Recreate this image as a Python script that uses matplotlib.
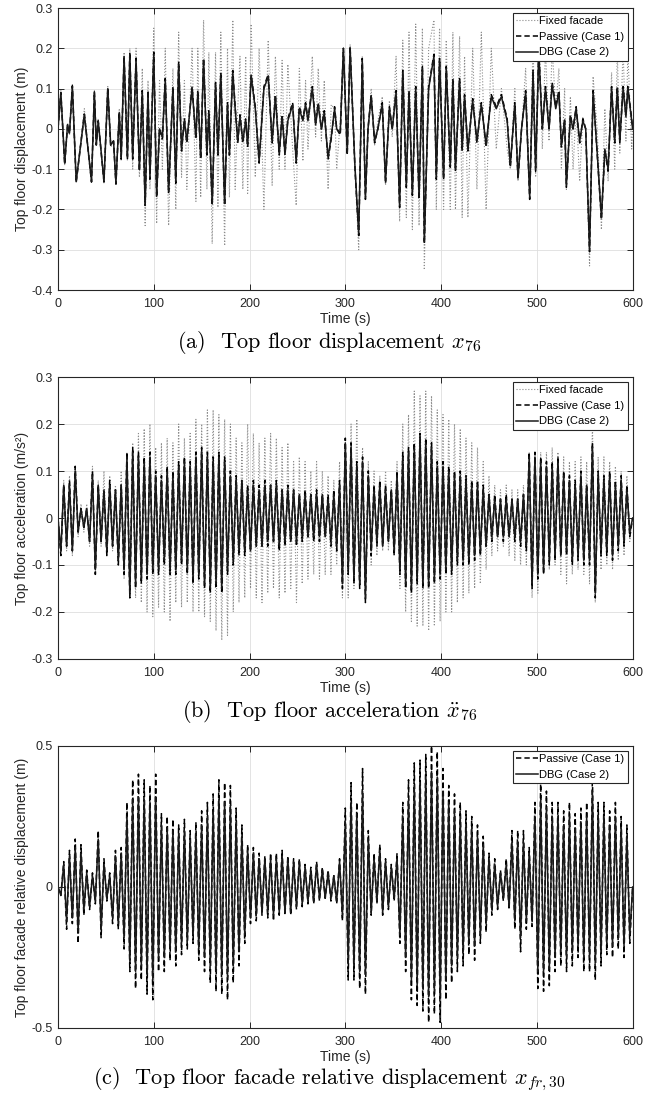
import numpy as np
import matplotlib
matplotlib.use("Agg")
import matplotlib.pyplot as plt

plt.rcParams["font.family"] = ["Liberation Sans", "DejaVu Sans"]
plt.rcParams["axes.unicode_minus"] = False
plt.rcParams["mathtext.fontset"] = "cm"

# ---------------------------------------------------------------------------
# (a) top floor displacement: extremes
# ---------------------------------------------------------------------------
t_a = [0, 3, 7, 10, 12, 15, 19, 27.5, 35, 38,
       40, 42, 44, 48, 52, 55, 58, 60.5, 64, 66,
       69, 72.5, 75, 78, 81.5, 85, 88, 91, 94, 96,
       100, 103, 106, 109, 112, 115.5, 120, 123, 126, 129,
       132, 134.5, 140, 144, 146, 149, 152, 155.5, 157.5, 161,
       164.5, 167, 170, 174, 177, 179, 182.5, 185, 187.7, 190,
       193, 196, 198, 201.7, 206, 210, 215, 219.5, 223.6, 227,
       231, 234, 237, 240, 245, 248.7, 252, 255.7, 258.5, 261,
       265.5, 269, 271.7, 275, 278, 282, 285.3, 288.8, 291, 294.7,
       298, 302, 305, 310, 314, 317.7, 321, 323.7, 327, 330.6,
       334, 338.6, 342, 346, 349, 353, 356.7, 360, 363.7, 366.5,
       370, 373.5, 377, 380.5, 382.5, 387, 392.5, 395, 398.4, 402.6,
       405.4, 409.6, 412.3, 415, 419.3, 422, 424.5, 428, 433, 437.4,
       442, 447, 452.4, 457.6, 463, 469, 472.3, 477, 480.3, 484,
       488.3, 492.5, 496, 498.7, 502, 505.7, 509, 512.7, 516, 519.7,
       523, 525.6, 529, 530.8, 535, 537.8, 541, 544.7, 548, 551,
       555, 558.7, 563, 567.4, 571, 574.4, 578, 581.3, 584, 586.6,
       590, 593, 595, 599, 600]

dbg_a = [0.0, 0.09, -0.085, 0.01, -0.01, 0.105, -0.13, 0.035, -0.13, 0.09,
         -0.04, 0.02, -0.03, -0.13, 0.10, -0.04, -0.03, -0.135, 0.04, -0.07,
         0.18, -0.07, 0.185, -0.07, 0.17, -0.10, 0.09, -0.19, 0.09, -0.12,
         0.185, -0.165, 0.0, -0.02, 0.12, -0.155, 0.10, -0.13, 0.16, -0.05,
         0.02, -0.03, 0.10, -0.02, 0.09, -0.07, 0.17, -0.06, 0.04, -0.185,
         0.11, -0.06, 0.135, -0.185, 0.06, -0.06, 0.14, 0.05, -0.03, 0.03,
         -0.03, 0.02, -0.04, 0.13, 0.05, -0.08, 0.10, 0.13, -0.03, 0.08,
         -0.06, 0.03, -0.06, 0.02, 0.06, -0.08, 0.05, 0.02, 0.06, 0.02,
         0.10, 0.01, 0.06, 0.0, 0.04, -0.07, -0.02, 0.05, 0.0, -0.01,
         0.20, -0.06, 0.20, -0.09, -0.26, 0.17, -0.17, 0.0, 0.08, -0.03,
         0.0, 0.06, -0.13, 0.05, 0.0, 0.09, -0.19, 0.14, -0.14, 0.09,
         -0.16, 0.10, -0.17, 0.15, -0.28, 0.10, 0.18, -0.12, 0.17, -0.12,
         0.15, -0.09, 0.12, -0.10, 0.12, -0.05, 0.08, -0.05, 0.07, -0.03,
         0.06, -0.04, 0.08, 0.05, 0.08, 0.02, -0.09, 0.06, -0.12, 0.0,
         0.09, -0.17, 0.14, -0.10, 0.19, 0.0, 0.10, 0.0, 0.11, 0.05,
         0.09, -0.04, 0.02, -0.14, 0.03, 0.0, 0.05, -0.03, 0.02, 0.0,
         -0.30, 0.09, -0.06, -0.22, -0.05, -0.10, 0.10, -0.03, 0.10, -0.03,
         0.10, 0.03, 0.10, 0.02, 0.0]

passive_a = [0.0, 0.09, -0.088, 0.01, -0.012, 0.107, -0.133, 0.037, -0.132, 0.092,
             -0.04, 0.02, -0.03, -0.132, 0.102, -0.04, -0.03, -0.137, 0.042, -0.075,
             0.18, -0.075, 0.19, -0.075, 0.175, -0.105, 0.095, -0.19, 0.095, -0.125,
             0.19, -0.17, 0.0, -0.025, 0.125, -0.16, 0.105, -0.135, 0.165, -0.055,
             0.025, -0.035, 0.105, -0.025, 0.095, -0.075, 0.175, -0.065, 0.045, -0.19,
             0.115, -0.065, 0.14, -0.19, 0.065, -0.065, 0.145, 0.055, -0.035, 0.035,
             -0.035, 0.025, -0.045, 0.135, 0.055, -0.085, 0.105, 0.135, -0.035, 0.085,
             -0.065, 0.035, -0.065, 0.025, 0.065, -0.085, 0.055, 0.025, 0.065, 0.025,
             0.105, 0.015, 0.065, 0.0, 0.045, -0.075, -0.025, 0.055, 0.0, -0.015,
             0.2, -0.065, 0.205, -0.095, -0.265, 0.175, -0.175, 0.0, 0.085, -0.035,
             0.0, 0.065, -0.135, 0.055, 0.0, 0.095, -0.195, 0.145, -0.145, 0.095,
             -0.165, 0.105, -0.175, 0.155, -0.285, 0.105, 0.185, -0.125, 0.175, -0.125,
             0.155, -0.095, 0.125, -0.105, 0.125, -0.055, 0.085, -0.055, 0.075, -0.035,
             0.065, -0.045, 0.085, 0.055, 0.085, 0.025, -0.095, 0.065, -0.125, 0.0,
             0.095, -0.175, 0.145, -0.105, 0.195, 0.0, 0.105, 0.0, 0.115, 0.055,
             0.095, -0.045, 0.025, -0.145, 0.035, 0.0, 0.055, -0.035, 0.025, 0.0,
             -0.305, 0.095, -0.065, -0.225, -0.055, -0.105, 0.105, -0.035, 0.105, -0.035,
             0.105, 0.035, 0.105, 0.025, 0.0]

fixed_a = [0.0, 0.095, -0.09, 0.015, -0.015, 0.11, -0.135, 0.05, -0.135, 0.095,
           -0.04, 0.025, -0.03, -0.135, 0.105, -0.045, -0.035, -0.14, 0.05, -0.08,
           0.19, -0.08, 0.2, -0.1, 0.2, -0.12, 0.15, -0.24, 0.12, -0.15,
           0.25, -0.235, 0.12, -0.1, 0.2, -0.24, 0.15, -0.2, 0.24, -0.12,
           0.12, -0.15, 0.2, -0.18, 0.2, -0.17, 0.27, -0.15, 0.19, -0.285,
           0.19, -0.195, 0.24, -0.29, 0.2, -0.17, 0.27, -0.15, 0.05, 0.18,
           -0.15, 0.18, -0.16, 0.26, -0.12, 0.2, -0.2, 0.22, -0.14, 0.18,
           -0.1, 0.17, -0.1, 0.16, -0.05, -0.19, 0.15, -0.08, 0.12, -0.05,
           0.18, -0.02, 0.15, -0.03, 0.12, -0.15, 0.06, 0.05, -0.1, 0.02,
           0.2, -0.06, 0.21, -0.1, -0.3, 0.18, -0.17, 0.0, 0.1, -0.04,
           0.02, 0.08, -0.14, 0.07, -0.02, 0.18, -0.23, 0.22, -0.22, 0.24,
           -0.25, 0.26, -0.24, 0.25, -0.35, 0.2, 0.27, -0.2, 0.25, -0.2,
           0.22, -0.2, 0.24, -0.2, 0.23, -0.22, 0.18, -0.22, 0.2, -0.15,
           0.24, -0.2, 0.2, -0.05, 0.1, -0.05, -0.1, 0.1, -0.13, 0.0,
           0.15, -0.17, 0.22, -0.12, 0.27, -0.05, 0.2, -0.03, 0.2, 0.05,
           0.15, -0.1, 0.1, -0.15, 0.08, -0.1, 0.05, -0.13, 0.03, 0.0,
           -0.34, 0.13, 0.0, -0.25, 0.05, -0.13, 0.14, -0.1, 0.19, -0.06,
           0.2, -0.03, 0.19, -0.05, 0.0]

# ---------------------------------------------------------------------------
# (b) top floor acceleration, read every 3 s
# ---------------------------------------------------------------------------
t_b = np.arange(0, 601, 3)

passive_b = [0.0, -0.08, 0.07, -0.06, 0.08, -0.07, 0.11, -0.03, 0.02, -0.02,
             0.02, -0.05, 0.1, -0.12, 0.07, -0.05, 0.06, -0.08, 0.08, -0.06,
             0.06, -0.1, 0.07, -0.12, 0.14, -0.17, 0.15, -0.15, 0.14, -0.14,
             0.13, -0.13, 0.14, -0.12, 0.1, -0.12, 0.09, -0.1, 0.11, -0.12,
             0.1, -0.12, 0.12, -0.1, 0.13, -0.12, 0.12, -0.14, 0.14, -0.13,
             0.15, -0.15, 0.14, -0.16, 0.13, -0.15, 0.14, -0.16, 0.13, -0.12,
             0.1, -0.1, 0.09, -0.08, 0.08, -0.08, 0.07, -0.07, 0.08, -0.06,
             0.07, -0.06, 0.08, -0.06, 0.07, -0.05, 0.08, -0.07, 0.06, -0.06,
             0.07, -0.05, 0.06, -0.06, 0.05, -0.05, 0.06, -0.04, 0.05, -0.05,
             0.06, -0.05, 0.05, -0.04, 0.05, -0.06, 0.06, -0.07, 0.08, -0.15,
             0.17, -0.12, 0.16, -0.14, 0.12, -0.15, 0.13, -0.18, 0.1, -0.08,
             0.07, -0.06, 0.08, -0.06, 0.07, -0.05, 0.06, -0.08, 0.1, -0.12,
             0.14, -0.15, 0.15, -0.16, 0.16, -0.14, 0.18, -0.15, 0.17, -0.15,
             0.16, -0.14, 0.12, -0.13, 0.12, -0.12, 0.11, -0.12, 0.1, -0.1,
             0.1, -0.1, 0.09, -0.1, 0.08, -0.09, 0.08, -0.08, 0.07, -0.06,
             0.05, -0.05, 0.05, -0.04, 0.04, -0.05, 0.05, -0.04, 0.04, -0.05,
             0.04, -0.06, 0.05, -0.07, 0.14, -0.15, 0.14, -0.13, 0.13, -0.12,
             0.12, -0.1, 0.12, -0.09, 0.13, -0.08, 0.1, -0.08, 0.09, -0.1,
             0.08, -0.09, 0.1, -0.1, 0.07, -0.1, 0.16, -0.17, 0.1, -0.08,
             0.09, -0.08, 0.1, -0.09, 0.08, -0.07, 0.09, -0.06, 0.07, -0.04,
             0.0]

dbg_b = [0.0, -0.07, 0.07, -0.06, 0.07, -0.07, 0.1, -0.03, 0.02, -0.02,
         0.02, -0.05, 0.09, -0.11, 0.07, -0.05, 0.06, -0.07, 0.07, -0.06,
         0.06, -0.09, 0.07, -0.11, 0.13, -0.16, 0.14, -0.14, 0.13, -0.13,
         0.12, -0.12, 0.13, -0.11, 0.09, -0.11, 0.08, -0.09, 0.1, -0.11,
         0.09, -0.11, 0.11, -0.09, 0.12, -0.11, 0.11, -0.13, 0.13, -0.12,
         0.14, -0.14, 0.13, -0.15, 0.12, -0.14, 0.13, -0.15, 0.12, -0.11,
         0.09, -0.09, 0.08, -0.07, 0.08, -0.07, 0.06, -0.07, 0.07, -0.06,
         0.06, -0.06, 0.07, -0.05, 0.07, -0.05, 0.07, -0.06, 0.06, -0.05,
         0.06, -0.05, 0.06, -0.05, 0.05, -0.04, 0.05, -0.04, 0.05, -0.04,
         0.05, -0.04, 0.05, -0.04, 0.04, -0.05, 0.05, -0.06, 0.07, -0.14,
         0.16, -0.11, 0.15, -0.13, 0.11, -0.14, 0.12, -0.17, 0.09, -0.07,
         0.06, -0.05, 0.07, -0.06, 0.06, -0.05, 0.06, -0.07, 0.09, -0.11,
         0.13, -0.14, 0.14, -0.15, 0.15, -0.13, 0.17, -0.14, 0.16, -0.14,
         0.15, -0.13, 0.11, -0.12, 0.11, -0.11, 0.1, -0.11, 0.09, -0.09,
         0.09, -0.09, 0.08, -0.09, 0.07, -0.08, 0.07, -0.07, 0.06, -0.06,
         0.05, -0.04, 0.04, -0.04, 0.04, -0.04, 0.04, -0.04, 0.04, -0.04,
         0.04, -0.05, 0.05, -0.06, 0.13, -0.14, 0.13, -0.12, 0.12, -0.11,
         0.11, -0.09, 0.11, -0.08, 0.12, -0.08, 0.09, -0.07, 0.08, -0.09,
         0.07, -0.08, 0.09, -0.09, 0.07, -0.09, 0.15, -0.16, 0.09, -0.07,
         0.08, -0.07, 0.09, -0.08, 0.07, -0.06, 0.08, -0.05, 0.06, -0.03,
         0.0]

fixed_b = [0.0, -0.08, 0.08, -0.07, 0.09, -0.08, 0.11, -0.04, 0.03, -0.03,
           0.03, -0.06, 0.11, -0.12, 0.08, -0.06, 0.1, -0.08, 0.09, -0.07,
           0.07, -0.1, 0.1, -0.13, 0.14, -0.17, 0.16, -0.17, 0.18, -0.18,
           0.19, -0.2, 0.2, -0.21, 0.15, -0.19, 0.16, -0.2, 0.17, -0.22,
           0.16, -0.18, 0.2, -0.19, 0.17, -0.18, 0.18, -0.2, 0.21, -0.2,
           0.2, -0.21, 0.23, -0.22, 0.23, -0.24, 0.22, -0.26, 0.21, -0.25,
           0.2, -0.2, 0.17, -0.18, 0.16, -0.17, 0.2, -0.15, 0.18, -0.17,
           0.16, -0.18, 0.17, -0.16, 0.18, -0.15, 0.17, -0.17, 0.15, -0.16,
           0.16, -0.15, 0.12, -0.18, 0.13, -0.14, 0.12, -0.13, 0.1, -0.12,
           0.12, -0.13, 0.1, -0.12, 0.09, -0.12, 0.08, -0.1, 0.12, -0.17,
           0.15, -0.17, 0.2, -0.15, 0.21, -0.14, 0.15, -0.16, 0.12, -0.1,
           0.1, -0.08, 0.09, -0.07, 0.1, -0.07, 0.08, -0.07, 0.12, -0.15,
           0.2, -0.2, 0.22, -0.22, 0.27, -0.23, 0.26, -0.23, 0.27, -0.24,
           0.26, -0.23, 0.23, -0.22, 0.22, -0.2, 0.21, -0.2, 0.2, -0.18,
           0.19, -0.17, 0.17, -0.16, 0.16, -0.15, 0.15, -0.14, 0.12, -0.11,
           0.09, -0.08, 0.07, -0.07, 0.06, -0.06, 0.07, -0.08, 0.06, -0.09,
           0.06, -0.1, 0.07, -0.1, 0.14, -0.17, 0.13, -0.16, 0.14, -0.12,
           0.14, -0.11, 0.15, -0.1, 0.14, -0.12, 0.13, -0.14, 0.12, -0.12,
           0.12, -0.11, 0.13, -0.12, 0.12, -0.14, 0.2, -0.18, 0.13, -0.11,
           0.13, -0.1, 0.12, -0.11, 0.11, -0.09, 0.1, -0.08, 0.09, -0.05,
           0.0]

# ---------------------------------------------------------------------------
# (c) facade relative displacement, read every 3 s
# ---------------------------------------------------------------------------
t_c = np.arange(0, 601, 3)

passive_c = [0.0, -0.03, 0.09, -0.15, 0.13, -0.13, 0.17, -0.2, 0.15, -0.1,
             0.06, -0.08, 0.05, -0.06, 0.2, -0.18, 0.1, -0.05, 0.05, -0.13,
             0.13, -0.15, 0.14, -0.22, 0.3, -0.3, 0.38, -0.36, 0.4, -0.33,
             0.38, -0.38, 0.36, -0.4, 0.4, -0.3, 0.26, -0.3, 0.25, -0.26,
             0.24, -0.28, 0.22, -0.24, 0.24, -0.22, 0.2, -0.2, 0.23, -0.26,
             0.27, -0.3, 0.3, -0.34, 0.33, -0.37, 0.38, -0.38, 0.37, -0.4,
             0.36, -0.34, 0.28, -0.28, 0.22, -0.2, 0.15, -0.13, 0.14, -0.12,
             0.12, -0.1, 0.11, -0.11, 0.12, -0.12, 0.12, -0.1, 0.13, -0.1,
             0.11, -0.1, 0.1, -0.08, 0.1, -0.07, 0.08, -0.06, 0.07, -0.06,
             0.09, -0.05, 0.07, -0.04, 0.06, -0.05, 0.04, -0.06, 0.1, -0.12,
             0.28, -0.33, 0.37, -0.33, 0.3, -0.36, 0.42, -0.38, 0.2, -0.1,
             0.12, -0.06, 0.15, -0.1, 0.1, -0.08, 0.08, -0.05, 0.12, -0.2,
             0.3, -0.3, 0.38, -0.4, 0.44, -0.42, 0.45, -0.44, 0.47, -0.48,
             0.5, -0.45, 0.48, -0.48, 0.42, -0.4, 0.36, -0.34, 0.33, -0.3,
             0.3, -0.28, 0.27, -0.24, 0.25, -0.26, 0.22, -0.2, 0.18, -0.16,
             0.12, -0.1, 0.1, -0.08, 0.06, -0.05, 0.1, -0.08, 0.2, -0.15,
             0.2, -0.23, 0.2, -0.15, 0.14, -0.14, 0.3, -0.36, 0.38, -0.37,
             0.34, -0.35, 0.3, -0.3, 0.3, -0.28, 0.27, -0.3, 0.3, -0.28,
             0.26, -0.25, 0.28, -0.3, 0.3, -0.3, 0.4, -0.33, 0.3, -0.28,
             0.3, -0.24, 0.27, -0.25, 0.3, -0.22, 0.25, -0.25, 0.22, -0.2,
             0.0]

dbg_c = [0.0, -0.03, 0.08, -0.12, 0.11, -0.11, 0.14, -0.16, 0.12, -0.08,
         0.05, -0.07, 0.04, -0.05, 0.17, -0.15, 0.08, -0.04, 0.04, -0.11,
         0.11, -0.13, 0.12, -0.18, 0.25, -0.26, 0.31, -0.3, 0.32, -0.28,
         0.31, -0.31, 0.3, -0.33, 0.32, -0.25, 0.22, -0.25, 0.21, -0.22,
         0.2, -0.23, 0.19, -0.2, 0.2, -0.19, 0.17, -0.17, 0.19, -0.22,
         0.22, -0.25, 0.25, -0.28, 0.27, -0.3, 0.31, -0.31, 0.3, -0.32,
         0.29, -0.28, 0.23, -0.23, 0.18, -0.17, 0.13, -0.11, 0.12, -0.1,
         0.1, -0.09, 0.1, -0.09, 0.1, -0.1, 0.1, -0.09, 0.11, -0.09,
         0.1, -0.09, 0.09, -0.07, 0.09, -0.06, 0.07, -0.05, 0.06, -0.05,
         0.08, -0.04, 0.06, -0.04, 0.05, -0.04, 0.04, -0.05, 0.09, -0.1,
         0.23, -0.27, 0.3, -0.28, 0.26, -0.3, 0.34, -0.31, 0.17, -0.09,
         0.1, -0.05, 0.13, -0.09, 0.09, -0.07, 0.07, -0.04, 0.1, -0.17,
         0.25, -0.25, 0.31, -0.33, 0.36, -0.35, 0.37, -0.36, 0.39, -0.39,
         0.41, -0.37, 0.39, -0.39, 0.34, -0.33, 0.3, -0.28, 0.27, -0.25,
         0.25, -0.23, 0.22, -0.2, 0.21, -0.21, 0.18, -0.17, 0.15, -0.13,
         0.1, -0.08, 0.08, -0.07, 0.05, -0.04, 0.08, -0.07, 0.16, -0.12,
         0.16, -0.18, 0.16, -0.12, 0.12, -0.12, 0.25, -0.3, 0.31, -0.3,
         0.28, -0.29, 0.25, -0.25, 0.25, -0.23, 0.22, -0.25, 0.25, -0.23,
         0.21, -0.21, 0.23, -0.25, 0.25, -0.25, 0.34, -0.27, 0.25, -0.23,
         0.25, -0.2, 0.22, -0.21, 0.25, -0.18, 0.21, -0.21, 0.18, -0.17,
         0.0]

series_labels = ["Fixed facade", "Passive (Case 1)", "DBG (Case 2)"]
captions = [r"(a)  Top floor displacement $x_{76}$",
            r"(b)  Top floor acceleration $\ddot{x}_{76}$",
            r"(c)  Top floor facade relative displacement $x_{fr,30}$"]

FIXED_STYLE = dict(color="#8c8c8c", linestyle=":", linewidth=0.8)
PASSIVE_STYLE = dict(color="black", linestyle=(0, (3.5, 2)), linewidth=1.1)
DBG_STYLE = dict(color="#1a1a1a", linestyle="-", linewidth=1.1)


def style_axes(ax, ylim, yticks, ylabel):
    ax.set_xlim(0, 600)
    ax.set_ylim(*ylim)
    ax.set_xticks(range(0, 601, 100))
    ax.set_yticks(yticks)
    ax.set_yticklabels(["0" if abs(v) < 1e-9 else f"{v:g}" for v in yticks])
    ax.grid(True, color="#dedede", linewidth=0.6)
    ax.set_axisbelow(True)
    ax.tick_params(direction="in", top=True, right=True, length=4,
                   width=0.7, labelsize=9, colors="#262626")
    ax.tick_params(axis="x", pad=5.5)
    ax.tick_params(axis="y", pad=4)
    for sp in ax.spines.values():
        sp.set_color("#262626")
        sp.set_linewidth(0.8)
    ax.set_xlabel("Time (s)", fontsize=10, labelpad=1.5, color="#262626")
    ax.set_ylabel(ylabel, fontsize=10, labelpad=1.5, color="#262626")


def add_legend(ax):
    leg = ax.legend(loc="upper right", fontsize=8, frameon=True,
                    fancybox=False, edgecolor="#262626", framealpha=1,
                    borderpad=0.3, labelspacing=0.5, handlelength=1.9,
                    handletextpad=0.15, borderaxespad=0.45)
    leg.get_frame().set_linewidth(0.8)


fig = plt.figure(figsize=(6.59, 10.97), dpi=100)
left, width = 0.088, 0.872
ax_a = fig.add_axes([left, 0.7356, width, 0.2571])
ax_b = fig.add_axes([left, 0.3993, width, 0.2570])
ax_c = fig.add_axes([left, 0.0629, width, 0.2571])

# panel (a)
ax_a.plot(t_a, fixed_a, label=series_labels[0], **FIXED_STYLE)
ax_a.plot(t_a, passive_a, label=series_labels[1], **PASSIVE_STYLE)
ax_a.plot(t_a, dbg_a, label=series_labels[2], **DBG_STYLE)
style_axes(ax_a, (-0.4, 0.3), np.round(np.arange(-0.4, 0.31, 0.1), 1),
           "Top floor displacement (m)")
add_legend(ax_a)

# panel (b)
ax_b.plot(t_b, fixed_b, label=series_labels[0], **FIXED_STYLE)
ax_b.plot(t_b, passive_b, label=series_labels[1], **PASSIVE_STYLE)
ax_b.plot(t_b, dbg_b, label=series_labels[2], **DBG_STYLE)
style_axes(ax_b, (-0.3, 0.3), np.round(np.arange(-0.3, 0.31, 0.1), 1),
           "Top floor acceleration (m/s\u00b2)")
add_legend(ax_b)

# panel (c)
ax_c.plot(t_c, passive_c, label=series_labels[1], **PASSIVE_STYLE)
ax_c.plot(t_c, dbg_c, label=series_labels[2], **DBG_STYLE)
style_axes(ax_c, (-0.5, 0.5), [-0.5, 0.0, 0.5],
           "Top floor facade relative displacement (m)")
add_legend(ax_c)

for y, cap in zip([0.6875, 0.3515, 0.0165], captions):
    fig.text(0.5, y, cap, ha="center", va="center", fontsize=16,
             family="cmr10")

fig.savefig("out.png", dpi=100)
